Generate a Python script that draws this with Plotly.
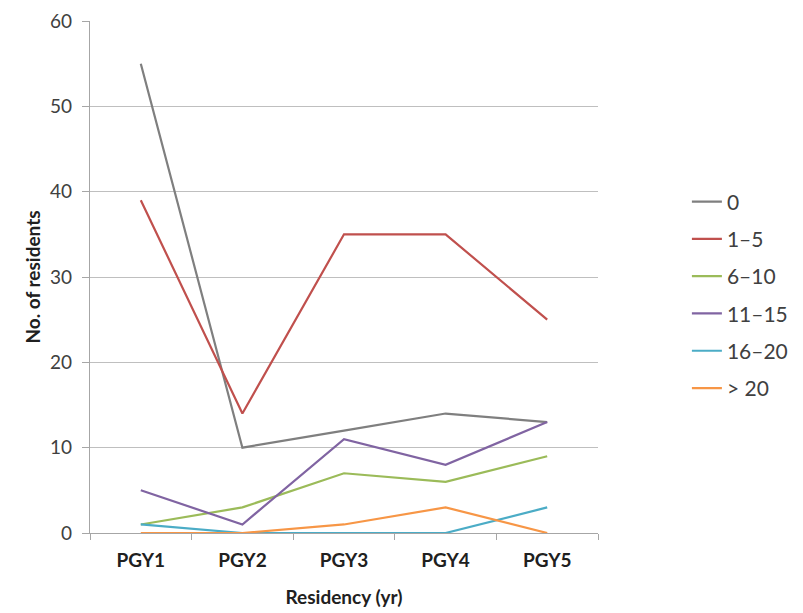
import plotly.graph_objects as go

categories = ["PGY1", "PGY2", "PGY3", "PGY4", "PGY5"]
series_names = ["0", "1–5", "6–10", "11–15", "16–20", "> 20"]
s0 = [55, 10, 12, 14, 13]
s1_5 = [39, 14, 35, 35, 25]
s6_10 = [1, 3, 7, 6, 9]
s11_15 = [5, 1, 11, 8, 13]
s16_20 = [1, 0, 0, 0, 3]
s20p = [0, 0, 1, 3, 0]
y_ticks = [0, 10, 20, 30, 40, 50, 60]

series_values = [s0, s1_5, s6_10, s11_15, s16_20, s20p]
colors = ["#7F7F7F", "#C0504D", "#9BBB59", "#8064A2", "#4BACC6", "#F79646"]

fig = go.Figure()
for i, (name, vals, c) in enumerate(zip(series_names, series_values, colors)):
    fig.add_trace(go.Scatter(
        x=categories, y=vals, mode="lines", name=name,
        line=dict(color=c, width=2.2), legendgroup=f"g{i}",
    ))

font_family = "Lato, Open Sans, sans-serif"
fig.update_layout(
    width=803, height=613,
    margin=dict(l=82, r=213, t=13, b=88, autoexpand=False),
    paper_bgcolor="white", plot_bgcolor="white",
    font=dict(family=font_family, color="#404040", size=19),
    legend=dict(
        x=1.175, y=0.465, xanchor="left", yanchor="middle",
        font=dict(size=21, color="#404040"),
        tracegroupgap=7, itemwidth=30,
        bgcolor="rgba(0,0,0,0)",
    ),
    xaxis=dict(
        type="category", range=[-0.5, 4.5], automargin=False,
        tickson="boundaries", ticks="outside", ticklen=6, tickcolor="#A6A6A6",
        showline=True, linecolor="#A6A6A6", linewidth=1.2,
        showgrid=False,
        ticklabelstandoff=10,
        tickfont=dict(size=19, color="#202020", family=font_family, weight="bold"),
        title=dict(text="<b>Residency (yr)</b>", font=dict(size=19, color="#202020"), standoff=20),
    ),
    yaxis=dict(
        range=[0, 60], tickvals=y_ticks, automargin=False,
        ticks="outside", ticklen=7, tickcolor="#A6A6A6",
        showline=True, linecolor="#A6A6A6", linewidth=1.2,
        showgrid=True, gridcolor="#BFBFBF", gridwidth=1.2,
        zeroline=False,
        tickfont=dict(size=19, color="#404040"),
        ticklabelstandoff=6, ticklabeloverflow="allow",
        title=dict(text="<b>No. of residents</b>", font=dict(size=19, color="#202020"), standoff=4),
    ),
)

fig.write_html("out.html")
